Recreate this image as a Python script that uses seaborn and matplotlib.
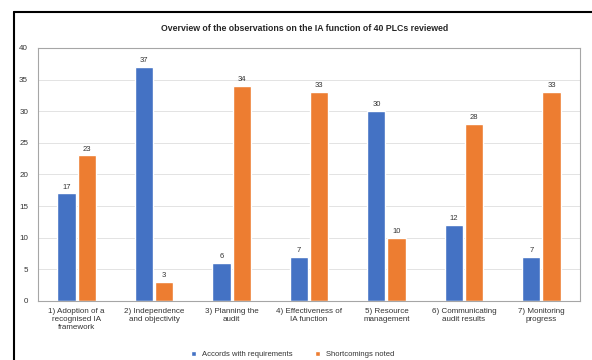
import pandas as pd
import seaborn as sns
import matplotlib
matplotlib.use("Agg")
import matplotlib.pyplot as plt
from matplotlib.lines import Line2D

# categories and values
categories = ["1) Adoption of a\nrecognised IA\nframework",
              "2) Independence\nand objectivity",
              "3) Planning the\naudit",
              "4) Effectiveness of\nIA function",
              "5) Resource\nmanagement",
              "6) Communicating\naudit results",
              "7) Monitoring\nprogress"]
accords = [17, 37, 6, 7, 30, 12, 7]
shortcomings = [23, 3, 34, 33, 10, 28, 33]
series_names = ["Accords with requirements", "Shortcomings noted"]

df = pd.DataFrame({
    "Area": categories * 2,
    "Count": accords + shortcomings,
    "Series": [series_names[0]] * len(categories) + [series_names[1]] * len(categories),
})

sns.set_style("white")
plt.rcParams["font.family"] = ["Liberation Sans", "DejaVu Sans"]

fig = plt.figure(figsize=(5.92, 3.6), dpi=100)
ax = fig.add_axes([0.064, 0.164, 0.916, 0.703])

sns.barplot(data=df, x="Area", y="Count", hue="Series",
            palette=["#4472C4", "#ED7D31"], width=0.52, gap=0.1,
            saturation=1, ax=ax, legend=True)

for cont in ax.containers:
    ax.bar_label(cont, fontsize=5.5, padding=2, color="#333333")

ax.set_ylim(0, 40)
ax.set_yticks(range(0, 41, 5))
ax.yaxis.grid(True, color="#e3e3e3", linewidth=0.7)
ax.set_axisbelow(True)
ax.set_xlabel("")
ax.set_ylabel("")
ax.tick_params(axis="both", length=0, labelsize=5.8, colors="#333333")
ax.tick_params(axis="y", pad=7)
ax.tick_params(axis="x", pad=5)
for s in ax.spines.values():
    s.set_visible(True)
    s.set_color("#a6a6a6")
    s.set_linewidth(0.8)

ax.legend(loc="upper center", bbox_to_anchor=(0.47, -0.17), ncol=2, frameon=False,
          fontsize=5.5, handlelength=0.6, handleheight=0.6, columnspacing=3,
          labelcolor="#333333")

fig.text(0.515, 0.922, "Overview of the observations on the IA function of 40 PLCs reviewed",
         ha="center", va="center", fontsize=6.3, fontweight="bold", color="#262626")

# black frame around the picture (left and top edges)
fig.add_artist(Line2D([14 / 592, 14 / 592], [0, 1 - 12 / 360], color="black", lw=1.5))
fig.add_artist(Line2D([14 / 592, 1], [1 - 12 / 360, 1 - 12 / 360], color="black", lw=1.5))

fig.savefig("out.png", dpi=100)
